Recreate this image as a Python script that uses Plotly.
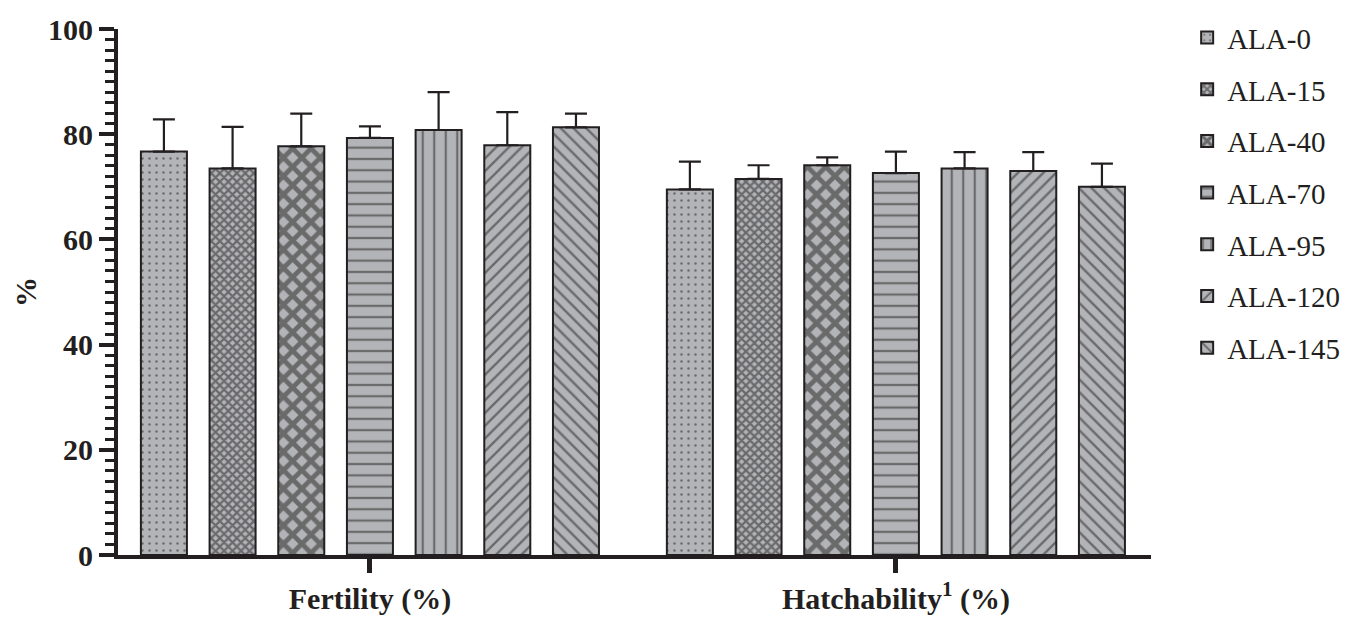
import plotly.graph_objects as go

groups = ["Fertility (%)", "Hatchability<sup>1</sup> (%)"]
treatments = ["ALA-0", "ALA-15", "ALA-40", "ALA-70", "ALA-95", "ALA-120", "ALA-145"]

fertility_mean = [76.7, 73.5, 77.7, 79.3, 80.8, 77.9, 81.3]
fertility_err = [6.1, 7.9, 6.2, 2.2, 7.2, 6.3, 2.6]
hatch_mean = [69.5, 71.5, 74.1, 72.6, 73.5, 73.0, 70.0]
hatch_err = [5.3, 2.6, 1.5, 4.1, 3.1, 3.6, 4.4]

y_tick_step = 20
y_minor_step = 2
y_max = 100

GRAY = "#b2b4b7"
DARK = "#231f20"
FONT = "Liberation Serif"

patterns = [
    dict(shape=".", size=7, solidity=0.1),
    dict(shape="x", size=6, solidity=0.6),
    dict(shape="x", size=13, solidity=0.6),
    dict(shape="-", size=11.3, solidity=0.2),
    dict(shape="|", size=11.5, solidity=0.19),
    dict(shape="/", size=9, solidity=0.26),
    dict(shape="\\", size=9, solidity=0.26),
]

fig = go.Figure()
for i, name in enumerate(treatments):
    p = patterns[i]
    fig.add_trace(go.Bar(
        name=name,
        x=[0, 1],
        y=[fertility_mean[i], hatch_mean[i]],
        error_y=dict(type="data", symmetric=False,
                     array=[fertility_err[i], hatch_err[i]],
                     arrayminus=[0, 0],
                     color=DARK, thickness=2.2, width=11),
        marker=dict(color=GRAY,
                    line=dict(color=DARK, width=2),
                    pattern=dict(shape=p["shape"], size=p["size"], solidity=p["solidity"],
                                 fgcolor=DARK, bgcolor=GRAY, fillmode="overlay")),
        legendgroup=name,
        hoverinfo="skip",
    ))

fig.update_layout(
    width=1363, height=628,
    margin=dict(l=118, r=212, t=23, b=54),
    paper_bgcolor="white", plot_bgcolor="white",
    barmode="group", bargap=0.086, bargroupgap=0.33,
    font=dict(family=FONT, color=DARK),
    showlegend=True,
    legend=dict(x=1.035, y=1.032, xanchor="left", yanchor="top",
                font=dict(family=FONT, size=29, color=DARK),
                traceorder="grouped", tracegroupgap=11,
                maxheight=1,
                bgcolor="rgba(0,0,0,0)"),
    xaxis=dict(range=[-0.479, 1.485], tickvals=[0, 1],
               ticktext=[groups[0], groups[1]],
               tickfont=dict(family=FONT, size=30, color=DARK, weight="bold"),
               showline=True, linewidth=4, linecolor=DARK,
               ticks="outside", ticklen=14, tickwidth=5, tickcolor=DARK,
               showgrid=False, zeroline=False, fixedrange=True),
    yaxis=dict(range=[0, y_max], tickmode="linear", tick0=0, dtick=y_tick_step,
               tickfont=dict(family=FONT, size=30, color=DARK, weight="bold"),
               showline=True, linewidth=4, linecolor=DARK,
               ticks="outside", ticklen=15, tickwidth=4, tickcolor=DARK,
               minor=dict(tickmode="linear", tick0=0, dtick=y_minor_step,
                          ticks="outside", ticklen=9, tickwidth=3, tickcolor=DARK,
                          showgrid=False),
               showgrid=False, zeroline=False, fixedrange=True,
               title=dict(text="%", font=dict(family=FONT, size=30, color=DARK, weight="bold"), standoff=4)),
)

fig.write_html("out.html")
